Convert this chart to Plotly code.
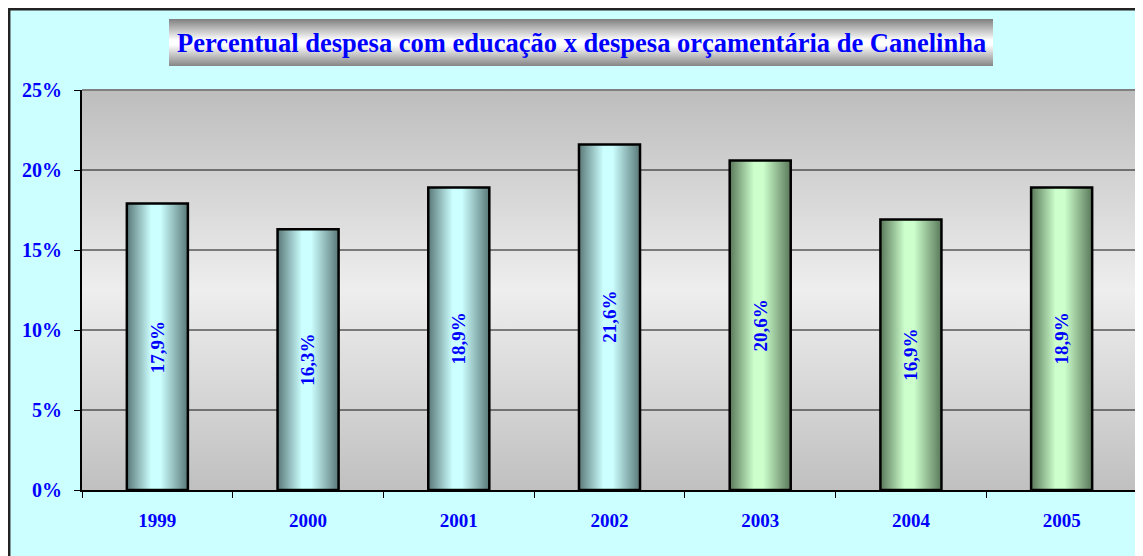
import plotly.graph_objects as go

# Dados
anos = ['1999', '2000', '2001', '2002', '2003', '2004', '2005']
percentuais = [17.9, 16.3, 18.9, 21.6, 20.6, 16.9, 18.9]
grupos = ['azul', 'azul', 'azul', 'azul', 'verde', 'verde', 'verde']
ticks_y = [0, 5, 10, 15, 20, 25]
titulo = 'Percentual despesa com educação x despesa orçamentária de Canelinha'

W, H = 1143, 556
AZUL = '#0000ff'
FONTE = 'Liberation Serif'

escalas = {
    'azul': [[0, '#5a7878'], [0.4, '#ccffff'], [0.55, '#ccffff'], [1, '#5a7878']],
    'verde': [[0, '#5a785a'], [0.4, '#ccffcc'], [0.55, '#ccffcc'], [1, '#5a785a']],
}

largura = 0.405
n = len(anos)

# área de plotagem em pixels do papel (a página desloca tudo 8px)
px_l, px_r, px_t, px_b = 74, 1129, 82, 482
area_h = H - 74
dom_x = [px_l / W, px_r / W]
dom_y = [0, (px_b - px_t) / area_h]
tit_x = [161 / W, 985 / W]
tit_y = [(px_b - 58) / area_h, (px_b - 11) / area_h]

fig = go.Figure()

# fundo com degradê da área de plotagem
fig.add_trace(go.Scatter(
    x=[-0.5, 6.5, 6.5, -0.5, -0.5], y=[0, 0, 25, 25, 0],
    mode='lines', line=dict(width=0), fill='toself',
    fillgradient=dict(type='vertical',
                      colorscale=[[0, '#c0c0c0'], [0.5, '#eeeeee'], [1, '#bdbdbd']]),
    hoverinfo='skip', showlegend=False))

# linhas de grade
gx, gy = [], []
for t in ticks_y[1:-1]:
    gx += [-0.5, 6.5, None]
    gy += [t, t, None]
fig.add_trace(go.Scatter(x=gx, y=gy, mode='lines', line=dict(color='#111111', width=1),
                         hoverinfo='skip', showlegend=False))

# barras com degradê horizontal
for i, (ano, v, g) in enumerate(zip(anos, percentuais, grupos)):
    x0, x1 = i - largura / 2, i + largura / 2
    fig.add_trace(go.Scatter(
        x=[x0, x0, x1, x1, x0], y=[0, v, v, 0, 0],
        mode='lines', line=dict(color='black', width=2.5), fill='toself',
        fillgradient=dict(type='horizontal', colorscale=escalas[g]),
        name=ano, hoverinfo='skip', showlegend=False))
    fig.add_annotation(x=i, y=v / 2, text=f'{v:.1f}%'.replace('.', ','),
                       textangle=-90, showarrow=False,
                       font=dict(family=FONTE, size=19, color=AZUL, weight='bold'))

# caixa do título
fig.add_trace(go.Scatter(
    x=[0, 1, 1, 0, 0], y=[0, 0, 1, 1, 0], xaxis='x2', yaxis='y2',
    mode='lines', line=dict(width=0), fill='toself',
    fillgradient=dict(type='vertical',
                      colorscale=[[0, '#858585'], [0.45, '#ffffff'], [0.55, '#ffffff'], [1, '#7f7f7f']]),
    hoverinfo='skip', showlegend=False))
fig.add_annotation(x=0.5, y=0.5, xref='x2', yref='y2', text=f'<b>{titulo}</b>',
                   showarrow=False, font=dict(family=FONTE, size=26.5, color=AZUL))

# moldura externa e bordas da área
fig.add_shape(type='rect', xref='paper', yref='paper', x0=1.2 / W, x1=1.02,
              y0=-0.3, y1=(area_h - 1.2) / area_h, layer='below',
              fillcolor='#ccffff', line=dict(color='#222222', width=2.5))
fig.add_shape(type='line', xref='x domain', yref='y domain', x0=0, x1=1, y0=1, y1=1,
              line=dict(color='#808080', width=2))
fig.add_shape(type='line', xref='x domain', yref='y domain', x0=1, x1=1, y0=0, y1=1,
              line=dict(color='#808080', width=2))

fig.update_layout(
    width=W, height=H,
    margin=dict(l=0, r=0, t=0, b=74),
    paper_bgcolor='white', plot_bgcolor='rgba(0,0,0,0)',
    showlegend=False,
    xaxis=dict(domain=dom_x, range=[-0.5, 6.5], tickvals=list(range(n)), ticktext=anos,
               ticks='outside', ticklen=12, tickcolor='rgba(0,0,0,0)',
               showline=True, linecolor='black', linewidth=2, showgrid=False,
               zeroline=False, automargin=False, fixedrange=True,
               tickfont=dict(family=FONTE, size=19, color=AZUL, weight='bold'),
               minor=dict(tickvals=[k - 0.5 for k in range(n + 1)], ticks='outside',
                          ticklen=6, tickcolor='black', showgrid=False)),
    yaxis=dict(domain=dom_y, range=[0, 25], tickvals=ticks_y,
               ticktext=[f'{t}%' for t in ticks_y],
               ticks='outside', ticklen=6, tickcolor='black', ticklabelstandoff=8,
               showline=True, linecolor='black', linewidth=2, showgrid=False,
               zeroline=False, automargin=False, fixedrange=True,
               tickfont=dict(family=FONTE, size=20, color=AZUL, weight='bold')),
    xaxis2=dict(domain=tit_x, range=[0, 1], anchor='y2', visible=False, fixedrange=True),
    yaxis2=dict(domain=tit_y, range=[0, 1], anchor='x2', visible=False, fixedrange=True),
)

fig.write_html('out.html')
